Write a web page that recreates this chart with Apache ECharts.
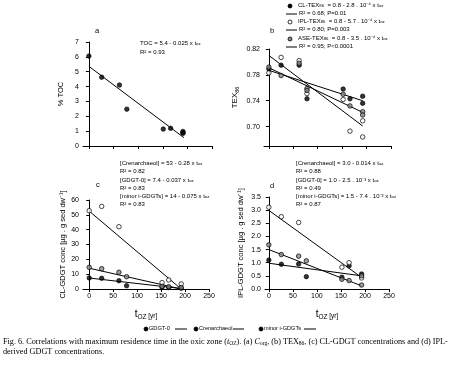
<!DOCTYPE html>
<html><head><meta charset="utf-8">
<script src="https://cdn.jsdelivr.net/npm/echarts@6/dist/echarts.min.js"></script>
<style>html,body{margin:0;padding:0;background:#fff}#c{width:453px;height:365px}</style>
</head><body><div id="c"></div>
<script>
// ---- Panel a: %TOC vs t_OZ ----
const tocPts = [[0,6.05],[26,4.63],[62,4.1],[77,2.48],[151,1.14],[166,1.19],[191,0.98],[191,0.9],[191,0.85]];
const tocFit = [[0,5.36],[193,0.56]];
// ---- Panel b: TEX86 ----
const clTex  = [[0,0.789],[25,0.795],[62,0.795],[78,0.743],[152,0.758],[166,0.743],[192,0.747],[192,0.736]];
const iplTex = [[0,0.783],[25,0.807],[62,0.802],[78,0.751],[152,0.742],[166,0.693],[192,0.709],[192,0.684]];
const aseTex = [[0,0.792],[25,0.779],[62,0.798],[78,0.759],[78,0.756],[152,0.750],[166,0.732],[192,0.723],[192,0.718]];
const clTexFit  = [[0,0.787],[192,0.740]];
const iplTexFit = [[0,0.810],[192,0.701]];
const aseTexFit = [[0,0.791],[192,0.722]];
// ---- Panel c: CL-GDGT conc ----
const clGdgt0 = [[0,7.4],[26,7.2],[62,5.6],[78,2.2],[152,1.0],[166,1.0],[192,0.5]];
const clCren  = [[0,52.8],[26,55.7],[62,42],[152,4.3],[166,6.1],[192,3.4]];
const clMinor = [[0,14.6],[26,13.7],[62,11.3],[78,8.3],[152,1.8],[166,1.5],[192,1.0]];
const clGdgt0Fit = [[0,7.4],[192,0.3]];
const clCrenFit  = [[0,52.5],[192,0]];
const clMinorFit = [[0,14],[192,0]];
// ---- Panel d: IPL-GDGT conc ----
const iplGdgt0 = [[0,1.1],[26,0.94],[62,0.95],[78,0.47],[152,0.45],[167,0.88],[193,0.57]];
const iplCren  = [[0,3.11],[26,2.75],[62,2.53],[152,0.83],[167,1.0],[193,0.42]];
const iplMinor = [[0,1.68],[26,1.31],[62,1.25],[78,1.07],[152,0.37],[167,0.32],[193,0.5],[193,0.15]];
const iplGdgt0Fit = [[0,0.98],[193,0.5]];
const iplCrenFit  = [[0,2.99],[193,0.44]];
const iplMinorFit = [[0,1.5],[193,0.12]];
// ---- tick labels ----
const xTickVals = [0,50,100,150,200,250];
const texTickVals = [0.70,0.74,0.78,0.82];

const F = 'Liberation Sans, Arial, sans-serif';
const SERIF = 'Liberation Serif, Times New Roman, serif';
const chart = echarts.init(document.getElementById('c'));

const filled = {color:'#000', borderColor:'#000', borderWidth:0.8};
const open = {color:'#fff', borderColor:'#000', borderWidth:0.9};
const grey = {color:'#888', borderColor:'#000', borderWidth:0.9};

function sc(data, gi, st){
  return {type:'scatter', xAxisIndex:gi, yAxisIndex:gi, data:data, symbolSize:4.5, itemStyle:st, z:3, silent:true};
}
function ln(data, gi){
  return {type:'line', xAxisIndex:gi, yAxisIndex:gi, data:data, showSymbol:false, lineStyle:{color:'#000', width:1}, z:2, silent:true};
}
function xAx(gi, min, labels){
  const tName = labels ? '{t|t}{s|OZ}{n| [yr]}' : '';
  return {gridIndex:gi, type:'value', min:min, max:250,
    axisLine:{lineStyle:{color:'#000', width:1}},
    axisTick:{show:true, inside:false, length:3, customValues:xTickVals, lineStyle:{color:'#000'}},
    axisLabel:{show:labels, customValues:xTickVals, fontSize:7, color:'#000', fontFamily:F, margin:4},
    splitLine:{show:false},
    name:tName, nameLocation:'middle', nameGap:19,
    nameTextStyle:{rich:{t:{fontSize:10, fontFamily:F, color:'#000'}, s:{fontSize:6.5, fontFamily:F, color:'#000', padding:[6,0,0,0]}, n:{fontSize:6.5, fontFamily:F, color:'#000', padding:[3,0,0,0]}}}
  };
}
function yAx(gi, o){
  return Object.assign({gridIndex:gi, type:'value',
    axisLine:{show:true, lineStyle:{color:'#000', width:1}},
    axisTick:{show:true, length:3, lineStyle:{color:'#000'}},
    axisLabel:{fontSize:7, color:'#000', fontFamily:F, margin:4},
    splitLine:{show:false},
    nameLocation:'middle', nameRotate:90,
    nameTextStyle:{fontSize:7.5, color:'#000', fontFamily:F}
  }, o);
}

function txt(x, y, text, size, extra){
  return Object.assign({type:'text', left:x, top:y, silent:true,
    style:{text:text, fontSize:size||6, fontFamily:F, fill:'#000',
      rich:{n:{fontSize:size||6, fontFamily:F, fill:'#000'}, s:{fontSize:4.3, fontFamily:F, fill:'#000', padding:[2,0,0,0]}}}}, extra||{});
}
function circ(x, y, st){
  return {type:'circle', shape:{cx:x, cy:y, r:2}, style:{fill:st.color, stroke:st.borderColor, lineWidth:0.8}, silent:true};
}
function hline(x1, x2, y){
  return {type:'line', shape:{x1:x1, y1:y, x2:x2, y2:y}, style:{stroke:'#000', lineWidth:1}, silent:true};
}

const graphics = [
  // panel letters
  txt(95, 27, 'a', 7.5), txt(270, 27, 'b', 7.5), txt(96, 181, 'c', 7.5), txt(270, 182, 'd', 7.5),
  // panel a equation
  txt(140, 40, 'TOC = 5.4 - 0.025 x t{s|oz}', 6),
  txt(140, 49, 'R² = 0.93', 6),
  // panel b legend
  circ(290, 6, filled), txt(298, 2, 'CL-TEX{s|86}  = 0.8 - 2.8 . 10⁻⁴ x t{s|oz}', 6),
  hline(286, 297, 14), txt(299, 10, 'R² = 0.68; P=0.01', 6),
  circ(290, 22, open), txt(298, 18, 'IPL-TEX{s|86}  = 0.8 - 5.7 . 10⁻⁴ x t{s|oz}', 6),
  hline(286, 297, 30), txt(299, 26, 'R² = 0.80; P=0.003', 6),
  circ(290, 39, grey), txt(298, 35, 'ASE-TEX{s|86}  = 0.8 - 3.5 . 10⁻⁴ x t{s|oz}', 6),
  hline(286, 297, 47), txt(299, 43, 'R² = 0.95; P<0.0001', 6),
  // panel c equations
  txt(120, 160, '[Crenarchaeol] = 53 - 0.28 x t{s|oz}', 6),
  txt(120, 168, 'R² = 0.82', 6),
  txt(120, 177, '[GDGT-0] = 7.4 - 0.037 x t{s|oz}', 6),
  txt(120, 185, 'R² = 0.83', 6),
  txt(120, 193, '[minor i-GDGTs] = 14 - 0.075 x t{s|oz}', 6),
  txt(120, 201, 'R² = 0.83', 6),
  // panel d equations
  txt(296, 160, '[Crenarchaeol] = 3.0 - 0.014 x t{s|oz}', 6),
  txt(296, 168, 'R² = 0.88', 6),
  txt(296, 177, '[GDGT-0] = 1.0 - 2.5 . 10⁻³ x t{s|oz}', 6),
  txt(296, 185, 'R² = 0.49', 6),
  txt(296, 193, '[minor i-GDGTs] = 1.5 - 7.4 . 10⁻³ x t{s|oz}', 6),
  txt(296, 201, 'R² = 0.87', 6),
  // bottom legend
  circ(146, 329, filled), txt(149, 325.8, 'GDGT-0', 5.6), hline(175, 187, 329),
  circ(196, 329, filled), txt(199, 325.8, 'Crenarchaeol', 5.6), hline(233, 244, 329),
  circ(261, 329, filled), txt(264, 325.8, 'minor i-GDGTs', 5.6), hline(304, 316, 329),
  // caption
  {type:'text', left:3, top:337, silent:true, style:{
    text:'Fig. 6. Correlations with maximum residence time in the oxic zone ({i|t}{s|OZ}). (a) {i|C}{s|org}, (b) TEX{s|86}, (c) CL-GDGT concentrations and (d) IPL-\nderived GDGT concentrations.',
    fontSize:8.2, fontFamily:SERIF, fill:'#000', lineHeight:10,
    rich:{i:{fontSize:8.2, fontStyle:'italic', fontFamily:SERIF, fill:'#000'}, s:{fontSize:5.5, fontFamily:SERIF, fill:'#000', padding:[3,0,0,0]}}}}
];

const option = {
  animation:false,
  backgroundColor:'#fff',
  grid:[
    {left:83, top:42, width:129, height:104},
    {left:264, top:49, width:127, height:97},
    {left:83, top:200, width:126, height:89},
    {left:265, top:197, width:124, height:92}
  ],
  xAxis:[xAx(0,-12,false), xAx(1,-10,false), xAx(2,-13,true), xAx(3,-8,true)],
  yAxis:[
    yAx(0,{min:0, max:7, interval:1, name:'% TOC', nameGap:18}),
    yAx(1,{min:0.67, max:0.82,
      axisTick:{show:true, length:3, customValues:texTickVals, lineStyle:{color:'#000'}},
      axisLabel:{fontSize:7, color:'#000', fontFamily:F, margin:4, customValues:texTickVals, formatter:v=>v.toFixed(2)},
      name:'{a|TEX}{b|86}', nameGap:24,
      nameTextStyle:{rich:{a:{fontSize:8, fontFamily:F, color:'#000'}, b:{fontSize:5.5, fontFamily:F, color:'#000', padding:[4,0,0,0]}}}}),
    yAx(2,{min:0, max:60, interval:10, name:'CL-GDGT conc [µg . g sed dw⁻¹]', nameGap:16}),
    yAx(3,{min:0, max:3.5, interval:0.5, name:'IPL-GDGT conc [µg . g sed dw⁻¹]', nameGap:20,
      axisLabel:{fontSize:7, color:'#000', fontFamily:F, margin:4, formatter:v=>v.toFixed(1)}})
  ],
  series:[
    ln(tocFit,0), sc(tocPts,0,filled),
    ln(clTexFit,1), ln(iplTexFit,1), ln(aseTexFit,1),
    sc(clTex,1,filled), sc(iplTex,1,open), sc(aseTex,1,grey),
    ln(clGdgt0Fit,2), ln(clCrenFit,2), ln(clMinorFit,2),
    sc(clGdgt0,2,filled), sc(clCren,2,open), sc(clMinor,2,grey),
    ln(iplGdgt0Fit,3), ln(iplCrenFit,3), ln(iplMinorFit,3),
    sc(iplGdgt0,3,filled), sc(iplCren,3,open), sc(iplMinor,3,grey)
  ],
  graphic:graphics
};
chart.setOption(option);
</script></body></html>
